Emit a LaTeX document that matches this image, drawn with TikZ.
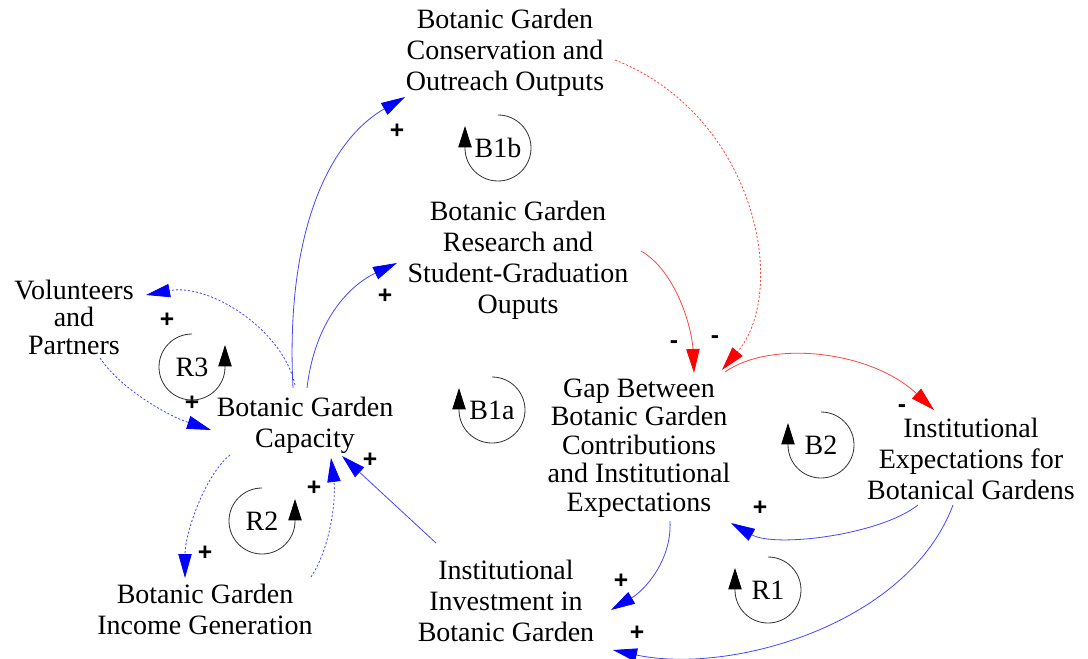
\documentclass[tikz,border=0pt]{standalone}
\usepackage{fontspec}
\setmainfont{Liberation Serif}
\newfontfamily\signfont{Liberation Sans}[BoldFont={* Bold}]
\usetikzlibrary{arrows.meta,calc}
\definecolor{linkblue}{RGB}{70,70,255}
\definecolor{headblue}{RGB}{0,0,255}
\definecolor{linkred}{RGB}{255,70,70}
\definecolor{headred}{RGB}{255,0,0}
\definecolor{loopgray}{RGB}{50,50,50}
\begin{document}
\begin{tikzpicture}[x=0.75pt,y=0.75pt,
  var/.style={align=center, inner sep=0pt, font=\fontsize{21pt}{23.25pt}\selectfont},
  sign/.style={inner sep=0pt, font=\signfont\bfseries\fontsize{18.5pt}{18.5pt}\selectfont},
  looplbl/.style={inner sep=0pt, font=\fontsize{21pt}{23.25pt}\selectfont},
  poslink/.style={draw=linkblue, line width=0.6pt, -{Triangle[length=18pt,width=10pt,color=headblue]}},
  neglink/.style={draw=linkred, line width=0.6pt, -{Triangle[length=18pt,width=10pt,color=headred]}},
  delayed/.style={dash pattern=on 1.6pt off 1.4pt},
  loopline/.style={draw=loopgray, line width=0.6pt, -{Triangle[length=16pt,width=10pt,color=black]}}
]
\fill[white] (0,0) rectangle (1088,-659);
\useasboundingbox (0,0) rectangle (1088,-659);

% variables
\node[var] (cons) at (505,-53) {Botanic Garden\\Conservation and\\Outreach Outputs};
\node[var] (res) at (518,-260) {Botanic Garden\\Research and\\Student-Graduation\\Ouputs};
\node[var, font=\fontsize{21pt}{20.6pt}\selectfont] (vol) at (74,-317) {Volunteers\\and\\Partners};
\node[var] (cap) at (305,-425) {Botanic Garden\\Capacity};
\node[var] (inc) at (205,-609) {Botanic Garden\\Income Generation};
\node[var] (inv) at (506,-601) {Institutional\\Investment in\\Botanic Garden};
\node[var, font=\fontsize{21pt}{21.4pt}\selectfont] (gap) at (639,-448) {Gap Between\\Botanic Garden\\Contributions\\and Institutional\\Expectations};
\node[var] (exp) at (971,-459) {Institutional\\Expectations for\\Botanical Gardens};

% links
\draw[poslink] ($(cap)+(-12,37)$) .. controls +(-8,158) and +(-75,-43) .. ($(cons)+(-100,-44)$);
\draw[poslink] ($(cap)+(2,37)$) .. controls +(8,68) and +(-47,-22) .. ($(res)+(-121,-3)$);
\draw[poslink, delayed] ($(cap)+(-10,40)$) .. controls +(-12,55) and +(64,12) .. ($(vol)+(72,22)$);
\draw[poslink, delayed] ($(vol)+(26,-41)$) .. controls +(20,-30) and +(-45,15) .. ($(cap)+(-94,-5)$);
\draw[poslink, delayed] ($(cap)+(-75,-30)$) .. controls +(-25,-20) and +(0,45) .. ($(inc)+(-20,31)$);
\draw[poslink, delayed] ($(inc)+(106,32)$) .. controls +(20,30) and +(5,-40) .. ($(cap)+(26,-33)$);
\draw[poslink] ($(inv)+(-70,58)$) -- ($(cap)+(37,-31)$);
\draw[neglink] ($(res)+(123,9)$) .. controls +(35,-20) and +(-2,45) .. ($(gap)+(55,75)$);
\draw[neglink, delayed] ($(cons)+(110,-7)$) .. controls +(140,-55) and +(68,80) .. ($(gap)+(83,78)$);
\draw[neglink] ($(gap)+(86,76)$) .. controls +(45,32) and +(-64,60) .. ($(exp)+(-37,49)$);
\draw[poslink] ($(exp)+(-53,-46)$) .. controls +(-38,-30) and +(44,-25) .. ($(gap)+(92,-75)$);
\draw[poslink] ($(gap)+(31,-73)$) .. controls +(2,-39) and +(34,20) .. ($(inv)+(105,-9)$);
\draw[poslink] ($(exp)+(-18,-46)$) .. controls +(-45,-120) and +(117,-25) .. ($(inv)+(107,-49)$);

% polarities
\node[sign] (s1) at (397,-131) {+};
\node[sign] (s2) at (385,-296) {+};
\node[sign] (s3) at (167,-320) {+};
\node[sign] (s4) at (192,-403) {+};
\node[sign] (s5) at (205,-553) {+};
\node[sign] (s6) at (314,-488) {+};
\node[sign] (s7) at (370,-460) {+};
\node[sign] (s8) at (674,-345) {-};
\node[sign] (s9) at (715,-340) {-};
\node[sign] (s10) at (902,-409) {-};
\node[sign] (s11) at (760,-508) {+};
\node[sign] (s12) at (621,-581) {+};
\node[sign] (s13) at (637,-633) {+};

% loop markers
\node[looplbl] (lB1b) at (498,-148) {B1b};
\draw[loopline] ($(lB1b)+(0,33)$) arc[start angle=90,end angle=-180,radius=24.75pt] -- ++(0,22);
\node[looplbl] (lB1a) at (492,-410) {B1a};
\draw[loopline] ($(lB1a)+(0,33)$) arc[start angle=90,end angle=-180,radius=24.75pt] -- ++(0,22);
\node[looplbl] (lB2) at (821,-445) {B2};
\draw[loopline] ($(lB2)+(0,33)$) arc[start angle=90,end angle=-180,radius=24.75pt] -- ++(0,22);
\node[looplbl] (lR1) at (768,-590) {R1};
\draw[loopline] ($(lR1)+(0,33)$) arc[start angle=90,end angle=-180,radius=24.75pt] -- ++(0,22);
\node[looplbl] (lR3) at (192,-367) {R3};
\draw[loopline] ($(lR3)+(0,33)$) arc[start angle=90,end angle=360,radius=24.75pt] -- ++(0,22);
\node[looplbl] (lR2) at (262,-521) {R2};
\draw[loopline] ($(lR2)+(0,33)$) arc[start angle=90,end angle=360,radius=24.75pt] -- ++(0,22);
\end{tikzpicture}
\end{document}
